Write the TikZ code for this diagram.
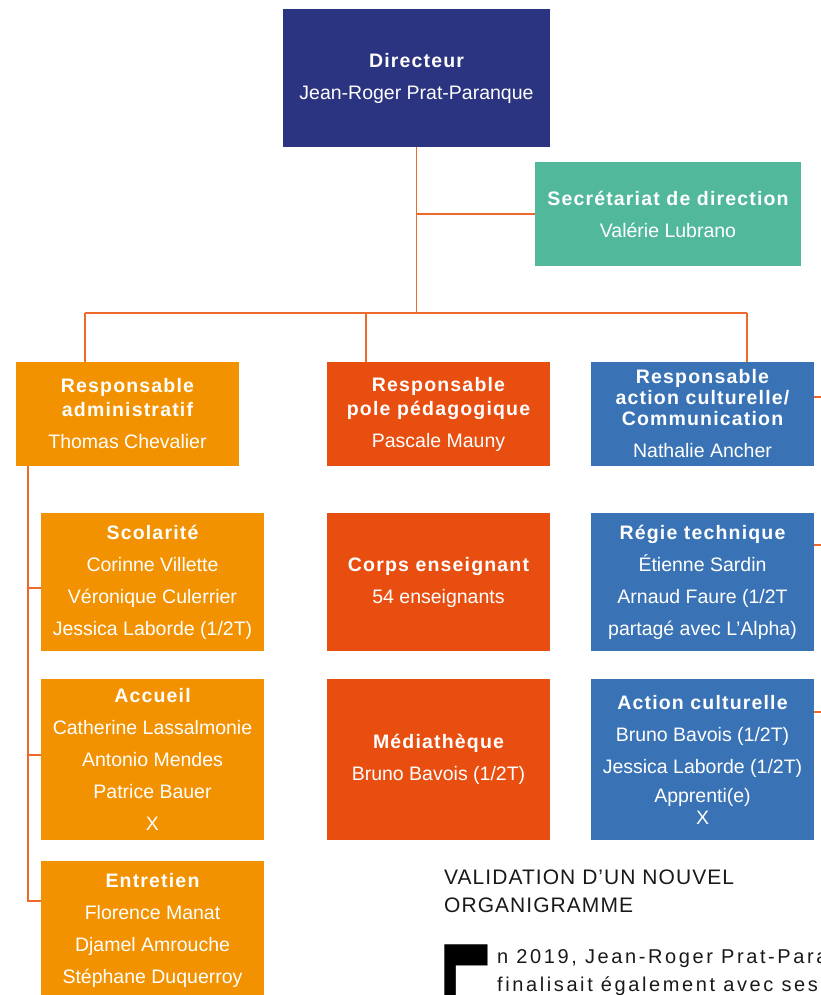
\documentclass[tikz,border=0pt]{standalone}
\usepackage{fontspec}
\usepackage{graphicx}
\setmainfont{Liberation Sans}
\newfontfamily\ttlfont[LetterSpace=6]{Liberation Sans}
\newfontfamily\hdfont[LetterSpace=5]{Liberation Sans}
\newfontfamily\txtfont[LetterSpace=13]{Liberation Sans}
\newcommand{\ttl}[1]{{\ttlfont\bfseries\fontsize{19.5}{32}\selectfont #1}}
\definecolor{dirblue}{HTML}{2B3480}
\definecolor{secgreen}{HTML}{52B89C}
\definecolor{admorange}{HTML}{F29200}
\definecolor{pedred}{HTML}{E84E0F}
\definecolor{culblue}{HTML}{3A73B5}
\definecolor{linkcol}{HTML}{EE6A2C}
\begin{document}
\begin{tikzpicture}[x=1pt, y=-1pt,
    box/.style = {minimum width=223pt, minimum height=104pt, inner sep=0pt, align=center,
                  text=white, font=\fontsize{19.5}{32}\selectfont},
    adm/.style = {box, fill=admorange},
    ped/.style = {box, fill=pedred},
    cul/.style = {box, fill=culblue},
    link/.style = {linkcol, line width=1.5pt}]
  \clip (0,0) rectangle (821,995);
  % top of the chart
  \node[box, fill=dirblue, minimum width=267pt, minimum height=138pt] (dir) at (416.5,78) {\ttl{Directeur}\\Jean-Roger Prat-Paranque};
  \node[box, fill=secgreen, minimum width=266pt] (sec) at (668,214) {\ttl{Secrétariat de direction}\\Valérie Lubrano};
  % the three poles
  \node[adm] (radm) at (127.5,414) {\ttl{Responsable}\\[-8pt]\ttl{administratif}\\Thomas Chevalier};
  \node[ped] (rped) at (438.5,414) {\ttl{Responsable}\\[-8pt]\ttl{pole pédagogique}\\Pascale Mauny};
  \node[cul] (rcul) at (702.5,414) {\ttl{Responsable}\\[-11pt]\ttl{action culturelle/}\\[-11pt]\ttl{Communication}\\Nathalie Ancher};
  % services
  \node[adm, minimum height=138pt] (scol) at (152.5,582) {\ttl{Scolarité}\\Corinne Villette\\Véronique Culerrier\\Jessica Laborde (1/2T)};
  \node[adm, minimum height=161pt] (accu) at (152.5,759.5) {\ttl{Accueil}\\Catherine Lassalmonie\\Antonio Mendes\\Patrice Bauer\\X};
  \node[adm, minimum height=138pt] (entr) at (152.5,930) {\ttl{Entretien}\\Florence Manat\\Djamel Amrouche\\Stéphane Duquerroy};
  \node[ped, minimum height=138pt] (corps) at (438.5,582) {\ttl{Corps enseignant}\\54 enseignants};
  \node[ped, minimum height=161pt] (media) at (438.5,759.5) {\ttl{Médiathèque}\\Bruno Bavois (1/2T)};
  \node[cul, minimum height=138pt] (regie) at (702.5,582) {\ttl{Régie technique}\\Étienne Sardin\\Arnaud Faure (1/2T\\partagé avec L’Alpha)};
  \node[cul, minimum height=161pt] (actc) at (702.5,759.5) {\ttl{Action culturelle}\\Bruno Bavois (1/2T)\\Jessica Laborde (1/2T)\\[-3pt]Apprenti(e)\\[-10pt]X};
  % connectors
  \coordinate (jct) at (416.5,313);
  \coordinate (b1) at (85,313);
  \coordinate (b2) at (366,313);
  \coordinate (b3) at (747,313);
  \coordinate (rail) at ([xshift=12pt]radm.south west);
  \coordinate (edge) at (830,0);
  \draw[link] (dir.south) -- (jct);
  \draw[link] (dir.south |- sec.west) -- (sec.west);
  \draw[link] (b1) -- (b3);
  \draw[link] (b1) -- (b1 |- radm.north);
  \draw[link] (b2) -- (b2 |- rped.north);
  \draw[link] (b3) -- (b3 |- rcul.north);
  \draw[link] (rail) |- ([yshift=-40pt]entr.north west);
  \draw[link] ([yshift=-75pt]scol.north west) -- ([yshift=-75pt]scol.north west -| rail);
  \draw[link] ([yshift=-76pt]accu.north west) -- ([yshift=-76pt]accu.north west -| rail);
  \draw[link] ([yshift=-35pt]rcul.north east) -- ([yshift=-35pt]rcul.north east -| edge);
  \draw[link] ([yshift=-32pt]regie.north east) -- ([yshift=-32pt]regie.north east -| edge);
  \draw[link] ([yshift=-33pt]actc.north east) -- ([yshift=-33pt]actc.north east -| edge);
  % text below
  \node[anchor=north west, inner sep=0pt, align=left, text=black!90, font=\hdfont\fontsize{21}{28}\selectfont] (head) at (444,870) {VALIDATION D’UN NOUVEL\\ORGANIGRAMME};
  \node[anchor=north west, inner sep=0pt, font=\bfseries\fontsize{190}{190}\selectfont] (cap) at (439,945) {\scalebox{0.42}[1]{E}};
  \node[anchor=north west, inner sep=0pt, align=left, text=black!90, font=\txtfont\fontsize{20}{28}\selectfont] (para) at (497,949) {n 2019, Jean-Roger Prat-Paranque\\finalisait également avec ses collaborateurs};
\end{tikzpicture}
\end{document}
